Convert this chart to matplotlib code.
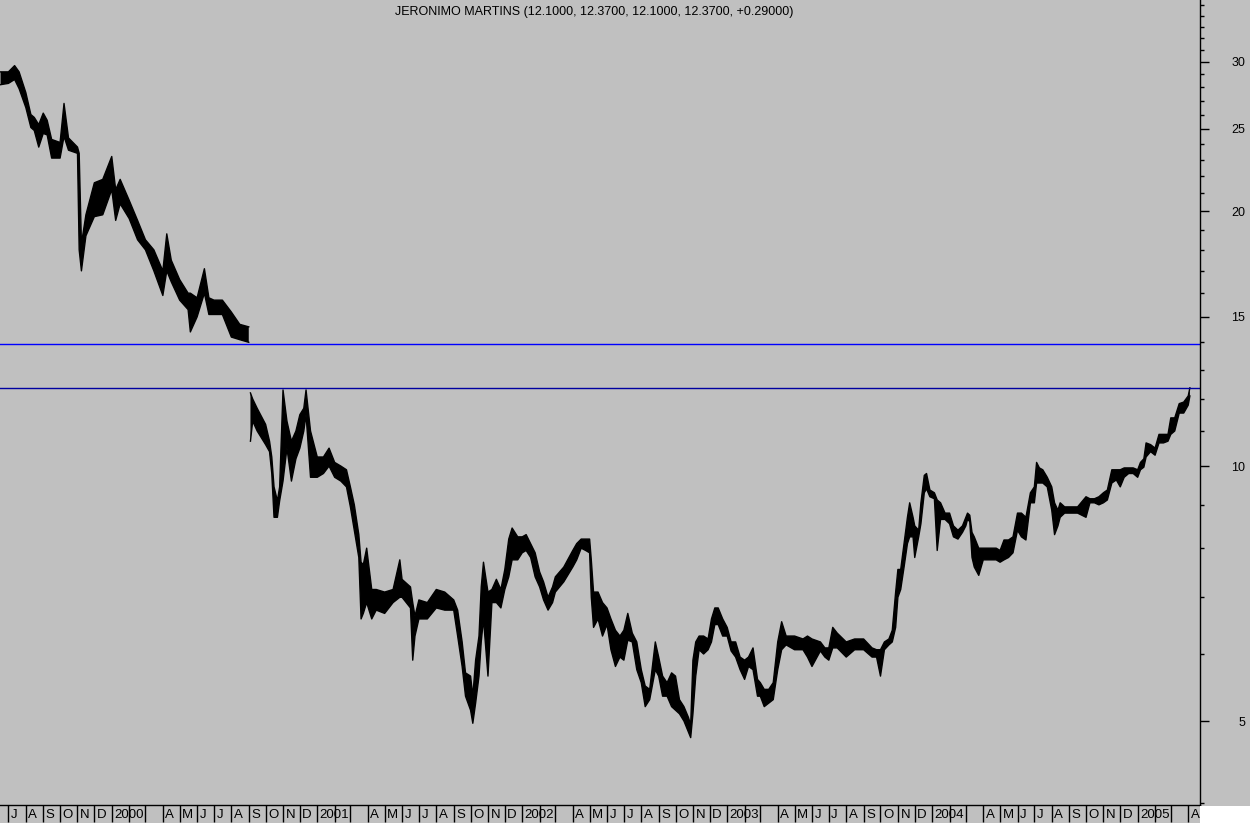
import matplotlib
matplotlib.use("Agg")
import matplotlib.pyplot as plt
import matplotlib.transforms as mtransforms
from matplotlib.patches import Rectangle
from matplotlib.ticker import FixedLocator, FixedFormatter, NullFormatter
import numpy as np
import pandas as pd

plt.rcParams["font.family"] = ["Liberation Sans", "DejaVu Sans"]

TITLE = "JERONIMO MARTINS (12.1000, 12.3700, 12.1000, 12.3700, +0.29000)"

# daily high/low envelope (NaN row = price gap in Sep 2000)
dates = [
    "1999-06-17", "1999-07-01", "1999-07-12", "1999-07-20", "1999-08-01", "1999-08-10",
    "1999-08-16", "1999-08-24", "1999-09-01", "1999-09-08", "1999-09-16", "1999-10-01",
    "1999-10-08", "1999-10-16", "1999-11-01", "1999-11-04", "1999-11-08", "1999-11-16",
    "1999-12-01", "1999-12-16", "2000-01-01", "2000-01-08", "2000-01-16", "2000-02-01",
    "2000-02-16", "2000-03-01", "2000-03-16", "2000-04-01", "2000-04-08", "2000-04-16",
    "2000-05-01", "2000-05-16", "2000-05-20", "2000-06-01", "2000-06-14", "2000-06-22",
    "2000-07-01", "2000-07-16", "2000-08-01", "2000-08-16", "2000-09-01", "2000-09-02",
    "2000-09-04", "2000-09-08", "2000-09-16", "2000-10-01", "2000-10-08", "2000-10-12",
    "2000-10-16", "2000-10-22", "2000-10-26", "2000-11-01", "2000-11-08", "2000-11-16",
    "2000-11-24", "2000-12-01", "2000-12-08", "2000-12-12", "2000-12-20", "2001-01-01",
    "2001-01-12", "2001-01-22", "2001-02-01", "2001-02-12", "2001-02-22", "2001-03-01",
    "2001-03-08", "2001-03-16", "2001-03-20", "2001-03-24", "2001-03-30", "2001-04-08",
    "2001-04-16", "2001-05-01", "2001-05-16", "2001-05-28", "2001-06-01", "2001-06-16",
    "2001-06-20", "2001-06-24", "2001-07-01", "2001-07-16", "2001-08-01", "2001-08-16",
    "2001-09-01", "2001-09-08", "2001-09-16", "2001-09-22", "2001-10-01", "2001-10-05",
    "2001-10-10", "2001-10-16", "2001-10-20", "2001-10-24", "2001-11-01", "2001-11-08",
    "2001-11-16", "2001-11-24", "2001-12-01", "2001-12-08", "2001-12-14", "2001-12-24",
    "2002-01-01", "2002-01-08", "2002-01-16", "2002-01-24", "2002-02-01", "2002-02-08",
    "2002-02-16", "2002-02-24", "2002-03-01", "2002-03-16", "2002-04-01", "2002-04-08",
    "2002-04-16", "2002-04-24", "2002-05-01", "2002-05-04", "2002-05-08", "2002-05-16",
    "2002-05-24", "2002-06-01", "2002-06-08", "2002-06-16", "2002-06-24", "2002-07-01",
    "2002-07-08", "2002-07-16", "2002-07-24", "2002-08-01", "2002-08-08", "2002-08-16",
    "2002-08-26", "2002-09-01", "2002-09-08", "2002-09-16", "2002-09-24", "2002-10-01",
    "2002-10-08", "2002-10-16", "2002-10-24", "2002-10-28", "2002-11-01", "2002-11-06",
    "2002-11-12", "2002-11-20", "2002-11-28", "2002-12-04", "2002-12-10", "2002-12-16",
    "2002-12-24", "2003-01-01", "2003-01-08", "2003-01-16", "2003-01-24", "2003-02-01",
    "2003-02-08", "2003-02-16", "2003-02-24", "2003-03-01", "2003-03-08", "2003-03-16",
    "2003-03-24", "2003-04-01", "2003-04-08", "2003-04-16", "2003-05-01", "2003-05-16",
    "2003-05-24", "2003-06-01", "2003-06-16", "2003-06-24", "2003-07-01", "2003-07-08",
    "2003-07-16", "2003-08-01", "2003-08-16", "2003-09-01", "2003-09-16", "2003-09-24",
    "2003-10-01", "2003-10-08", "2003-10-16", "2003-10-22", "2003-10-28", "2003-11-01",
    "2003-11-06", "2003-11-12", "2003-11-18", "2003-11-22", "2003-11-28", "2003-12-01",
    "2003-12-08", "2003-12-12", "2003-12-18", "2003-12-22", "2003-12-28", "2004-01-05",
    "2004-01-10", "2004-01-16", "2004-01-24", "2004-02-01", "2004-02-08", "2004-02-16",
    "2004-02-24", "2004-03-01", "2004-03-04", "2004-03-08", "2004-03-12", "2004-03-16",
    "2004-03-24", "2004-04-01", "2004-04-08", "2004-04-16", "2004-04-24", "2004-05-01",
    "2004-05-08", "2004-05-16", "2004-05-24", "2004-06-01", "2004-06-08", "2004-06-16",
    "2004-06-24", "2004-07-01", "2004-07-05", "2004-07-10", "2004-07-16", "2004-07-24",
    "2004-08-01", "2004-08-06", "2004-08-12", "2004-08-16", "2004-08-24", "2004-09-01",
    "2004-09-16", "2004-10-01", "2004-10-08", "2004-10-16", "2004-10-24", "2004-11-01",
    "2004-11-08", "2004-11-16", "2004-11-24", "2004-12-01", "2004-12-08", "2004-12-16",
    "2004-12-24", "2005-01-01", "2005-01-06", "2005-01-12", "2005-01-16", "2005-01-24",
    "2005-02-01", "2005-02-08", "2005-02-16", "2005-02-24", "2005-03-01", "2005-03-08",
    "2005-03-16", "2005-03-24", "2005-04-01", "2005-04-04",
]
nan = np.nan
high = [
    29.2, 29.2, 29.7, 29.2, 27.6, 26.0, 25.8, 25.3, 26.1, 25.6, 24.3, 24.1,
    26.8, 24.4, 23.8, 23.4, 18.3, 19.8, 21.6, 21.8, 23.2, 21.2, 21.8, 20.6,
    19.5, 18.5, 18.0, 17.0, 18.8, 17.5, 16.6, 16.0, 16.0, 15.8, 17.1, 15.8,
    15.7, 15.7, 15.2, 14.7, 14.6, nan,
    12.2, 12.0, 11.7, 11.2, 10.7, 10.25, 9.45, 9.1, 9.45, 12.3, 11.3, 10.7,
    11.0, 11.5, 11.7, 12.3, 11.0, 10.25, 10.25, 10.5, 10.1, 10.0, 9.9, 9.45,
    9.0, 8.3, 7.7, 7.65, 8.0, 7.15, 7.15, 7.1, 7.15, 7.75, 7.35, 7.2,
    6.9, 6.65, 6.95, 6.9, 7.15, 7.1, 6.95, 6.76, 6.2, 5.7, 5.65, 5.35,
    5.9, 6.3, 7.2, 7.7, 7.1, 7.15, 7.35, 7.15, 7.55, 8.2, 8.45, 8.25,
    8.25, 8.3, 8.1, 7.9, 7.5, 7.3, 7.0, 7.2, 7.4, 7.6, 7.95, 8.1,
    8.2, 8.2, 8.2, 7.75, 7.1, 7.1, 6.9, 6.8, 6.6, 6.4, 6.3, 6.4,
    6.7, 6.35, 6.2, 5.75, 5.5, 5.45, 6.2, 5.95, 5.65, 5.55, 5.7, 5.65,
    5.3, 5.2, 5.05, 4.95, 5.9, 6.2, 6.3, 6.3, 6.25, 6.6, 6.8, 6.8,
    6.6, 6.45, 6.2, 6.2, 5.95, 5.9, 5.95, 6.1, 5.6, 5.55, 5.45, 5.45,
    5.55, 6.2, 6.55, 6.3, 6.3, 6.25, 6.3, 6.25, 6.2, 6.1, 6.1, 6.45,
    6.35, 6.2, 6.25, 6.25, 6.1, 6.07, 6.07, 6.2, 6.25, 6.4, 7.1, 7.55,
    7.55, 8.1, 8.7, 9.05, 8.7, 8.5, 8.4, 9.05, 9.75, 9.8, 9.37, 9.3,
    9.12, 9.05, 8.8, 8.8, 8.5, 8.4, 8.5, 8.7, 8.8, 8.75, 8.35, 8.25,
    8.0, 8.0, 8.0, 8.0, 8.0, 7.95, 8.18, 8.18, 8.25, 8.8, 8.8, 8.7,
    9.3, 9.45, 10.1, 9.95, 9.9, 9.7, 9.45, 9.05, 8.87, 9.05, 8.95, 8.95,
    8.95, 9.2, 9.15, 9.15, 9.2, 9.3, 9.37, 9.9, 9.9, 9.9, 9.95, 9.95,
    9.95, 9.9, 10.1, 10.2, 10.65, 10.6, 10.5, 10.9, 10.9, 10.9, 11.4, 11.4,
    11.85, 11.9, 12.1, 12.37,
]
low = [
    28.2, 28.3, 28.6, 27.9, 26.5, 25.1, 24.9, 23.8, 24.7, 24.6, 23.1, 23.1,
    24.5, 23.6, 23.4, 18.0, 17.0, 18.7, 19.7, 19.8, 21.2, 19.5, 20.4, 19.6,
    18.5, 18.0, 17.0, 15.9, 17.0, 16.5, 15.7, 15.3, 14.4, 15.0, 16.0, 15.1,
    15.1, 15.1, 14.2, 14.1, 14.0, nan,
    10.7, 11.3, 11.0, 10.6, 10.4, 9.8, 8.7, 8.7, 9.1, 9.6, 10.5, 9.6,
    10.2, 10.5, 11.0, 11.5, 9.7, 9.7, 9.8, 10.0, 9.7, 9.6, 9.45, 8.95,
    8.4, 7.8, 6.6, 6.7, 6.9, 6.6, 6.76, 6.7, 6.9, 7.0, 7.0, 6.8,
    5.9, 6.3, 6.6, 6.6, 6.8, 6.76, 6.76, 6.3, 5.8, 5.35, 5.15, 4.97,
    5.25, 5.65, 6.2, 6.6, 5.65, 6.9, 6.9, 6.8, 7.15, 7.4, 7.75, 7.75,
    7.9, 7.95, 7.8, 7.4, 7.2, 6.95, 6.76, 6.9, 7.1, 7.3, 7.6, 7.75,
    8.0, 7.95, 7.9, 7.0, 6.45, 6.6, 6.3, 6.5, 6.07, 5.8, 5.95, 5.9,
    6.23, 6.2, 5.75, 5.55, 5.2, 5.3, 5.75, 5.65, 5.35, 5.35, 5.2, 5.15,
    5.1, 5.0, 4.85, 4.78, 5.1, 5.65, 6.07, 6.0, 6.07, 6.2, 6.5, 6.5,
    6.3, 6.3, 6.05, 5.95, 5.75, 5.6, 5.8, 5.75, 5.35, 5.35, 5.2, 5.25,
    5.3, 5.75, 6.07, 6.15, 6.07, 6.07, 5.95, 5.8, 6.05, 5.95, 5.9, 6.1,
    6.1, 5.95, 6.07, 6.07, 5.95, 5.95, 5.65, 6.07, 6.15, 6.2, 6.45, 7.0,
    7.15, 7.6, 8.1, 8.25, 8.25, 7.8, 8.25, 8.55, 9.3, 9.4, 9.2, 9.15,
    7.95, 8.65, 8.65, 8.55, 8.25, 8.2, 8.35, 8.5, 8.65, 8.6, 7.8, 7.6,
    7.43, 7.75, 7.75, 7.75, 7.75, 7.7, 7.75, 7.8, 7.9, 8.4, 8.25, 8.18,
    9.05, 9.05, 9.55, 9.55, 9.55, 9.45, 8.87, 8.3, 8.5, 8.7, 8.8, 8.8,
    8.8, 8.7, 9.05, 9.05, 9.0, 9.05, 9.12, 9.55, 9.63, 9.45, 9.7, 9.8,
    9.8, 9.7, 9.9, 9.97, 10.25, 10.4, 10.3, 10.65, 10.65, 10.7, 10.9, 11.0,
    11.55, 11.55, 11.8, 12.1,
]

reference_level = 13.95
last_close = 12.37

major_ticks = [5, 10, 15, 20, 25, 30]
minor_ticks = [4, 6, 7, 8, 9, 11, 12, 13, 14, 16, 17, 18, 19, 21, 22, 23, 24,
               26, 27, 28, 29, 31, 32, 33, 34, 35]
month_initials = ["", "", "", "A", "M", "J", "J", "A", "S", "O", "N", "D"]

BG = "#C0C0C0"

d = pd.to_datetime(dates)
fig = plt.figure(figsize=(12.5, 8.23), dpi=100, facecolor=BG)
ax = fig.add_axes([0, 18 / 823, 1200 / 1250, 805 / 823])
ax.set_facecolor(BG)

ax.fill_between(d, low, high, color="black", linewidth=0)
ax.plot(d, high, color="black", linewidth=1.0)
ax.plot(d, low, color="black", linewidth=1.0)

ax.axhline(reference_level, color="#0000FF", linewidth=1)
ax.axhline(last_close, color="#0000A0", linewidth=1)

ax.set_yscale("log")
ax.set_ylim(3.98, 35.5)
ax.set_xlim(pd.Timestamp("1999-06-16"), pd.Timestamp("2005-04-22"))

# price axis on the right
ax.yaxis.tick_right()
ax.yaxis.set_major_locator(FixedLocator(major_ticks))
ax.yaxis.set_major_formatter(FixedFormatter([str(v) for v in major_ticks]))
ax.yaxis.set_minor_locator(FixedLocator(minor_ticks))
ax.yaxis.set_minor_formatter(NullFormatter())
ax.tick_params(axis="y", which="major", length=6.5, width=1, pad=25.9,
               labelsize=9, colors="black")
ax.tick_params(axis="y", which="minor", length=3, width=1)
plt.setp(ax.get_yticklabels(), ha="right")

# month separators along the bottom
month_starts = pd.date_range("1999-07-01", "2005-04-01", freq="MS")
ax.set_xticks(month_starts)
ax.xaxis.set_minor_locator(FixedLocator([]))
ax.tick_params(axis="x", which="major", length=12.3, width=1, labelbottom=False)

label_tf = mtransforms.blended_transform_factory(ax.transData, ax.transAxes) + \
    mtransforms.ScaledTranslation(0.025, -0.10, fig.dpi_scale_trans)
for m in month_starts:
    text = str(m.year) if m.month == 1 else month_initials[m.month - 1]
    if text:
        ax.text(m, 0, text, transform=label_tf, ha="left", va="center", fontsize=9.5)

for side in ("left", "top"):
    ax.spines[side].set_visible(False)
for side in ("right", "bottom"):
    ax.spines[side].set_color("black")
    ax.spines[side].set_linewidth(1)

ax.text(0.495, 1 - 12 / 805, TITLE, transform=ax.transAxes, ha="center",
        va="center", fontsize=9)

fig.add_artist(Rectangle((1200 / 1250, 0), 50 / 1250, 17 / 823,
                         transform=fig.transFigure, facecolor="white",
                         edgecolor="none"))

fig.savefig("out.png", dpi=100, facecolor=BG)
